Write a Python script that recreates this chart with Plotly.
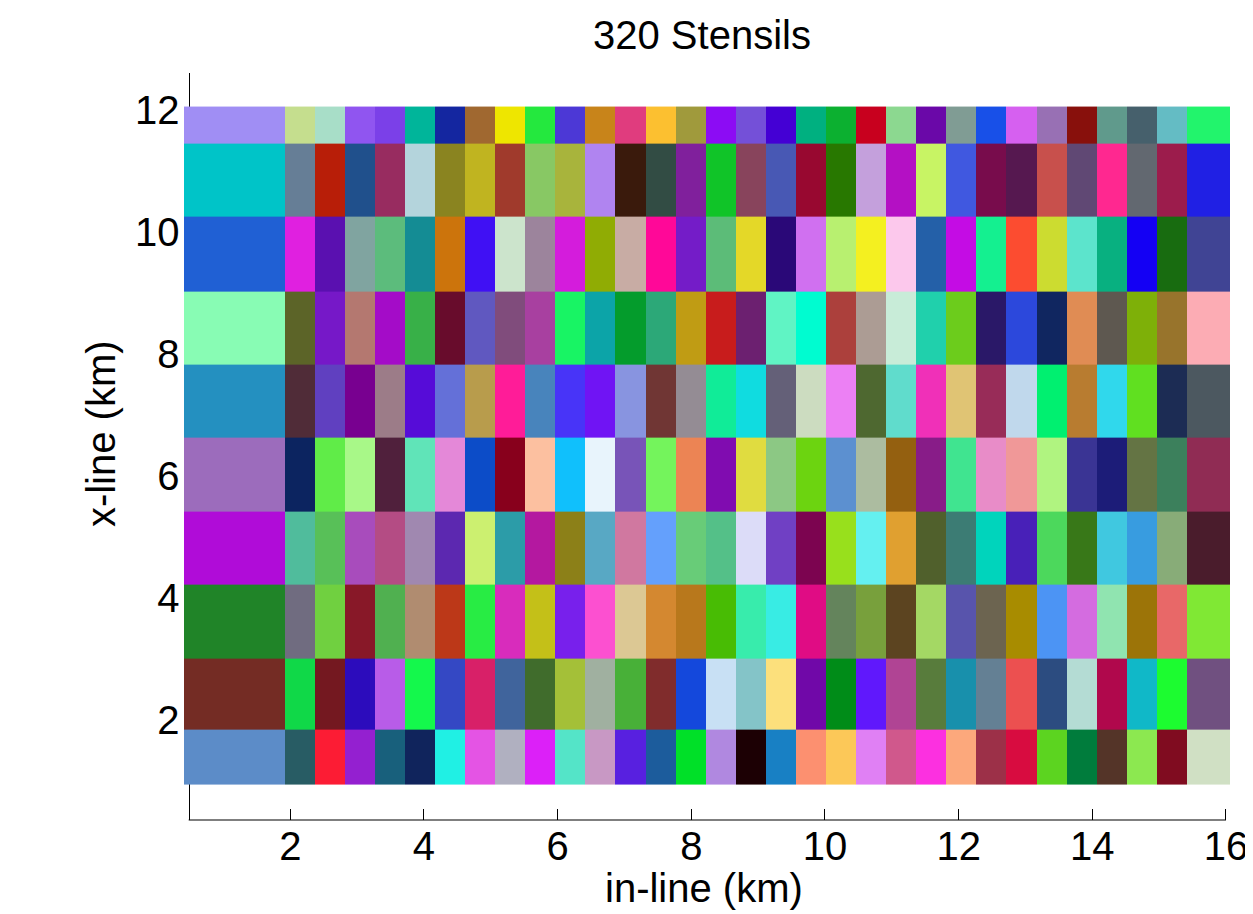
import plotly.graph_objects as go

# Stencil cell edges (km)
x_edges = [0.41, 1.915, 2.365, 2.815, 3.265, 3.715, 4.165, 4.615, 5.065, 5.515,
           5.965, 6.415, 6.865, 7.315, 7.765, 8.215, 8.665, 9.115, 9.565, 10.015,
           10.465, 10.915, 11.365, 11.815, 12.265, 12.715, 13.165, 13.615, 14.065,
           14.515, 14.965, 15.415, 16.06]
y_edges = [0.934, 1.836, 3.01, 4.213, 5.41, 6.62, 7.82, 9.02, 10.25, 11.45, 12.05]

x_ticks = [2, 4, 6, 8, 10, 12, 14, 16]
y_ticks = [2, 4, 6, 8, 10, 12]

# Stencil colours, rows listed from top (x-line ~12) to bottom (x-line ~1)
row_01 = ["#A08EF4", "#C5DE8E", "#A8DEC8", "#9055F0", "#7B40E8", "#00B59A", "#1426A0", "#A06830",
          "#EEE600", "#24E83E", "#4C38D6", "#C8841A", "#E03C7E", "#FCC030", "#A09A3C", "#8C0CF4",
          "#7450D8", "#4400D4", "#00B080", "#0CB030", "#C8001E", "#8CD890", "#6A08A8", "#809C94",
          "#1850E8", "#D660F0", "#9870B4", "#88100C", "#609A8C", "#46606C", "#64BCC4", "#22F46C"]
row_02 = ["#00C4C8", "#667E96", "#B81E08", "#20508C", "#982C60", "#B4D4DC", "#8A8420", "#C0B420",
          "#A03A2C", "#88C864", "#A8B43C", "#B084F0", "#3A1A0C", "#324C44", "#80209C", "#10C428",
          "#88445C", "#4858B4", "#980830", "#287800", "#C4A0DC", "#B410C4", "#C8F464", "#4058E0",
          "#780C4C", "#561850", "#C8504C", "#604874", "#FF2890", "#626870", "#9C1C4C", "#2020E4"]
row_03 = ["#2060D4", "#E020E0", "#5A10B0", "#80A4A0", "#5CBC7C", "#148C94", "#CC740C", "#4010F4",
          "#CCE4CC", "#9C849C", "#D41CDC", "#90AC04", "#C8ACA4", "#FF0898", "#741CC8", "#5CBC78",
          "#E4D828", "#2A0878", "#D070F0", "#B8F070", "#F4F020", "#FCC8EC", "#2460A8", "#C40CE4",
          "#14F090", "#FC4C30", "#CCDC30", "#5CE4CC", "#08B080", "#1400F4", "#186C10", "#404494"]
row_04 = ["#88FCB4", "#5C6428", "#7618C8", "#B47870", "#A40CC8", "#38B048", "#680C2C", "#6058C0",
          "#804C7C", "#A840A0", "#18F464", "#0CA4A8", "#049C2C", "#2CA878", "#C09C14", "#C81C1C",
          "#6C2070", "#60F4C4", "#00FCD0", "#AC403C", "#AC9C94", "#C8ECD8", "#20D0AC", "#6CCC1C",
          "#2A1868", "#2C48DC", "#102660", "#E08C54", "#5E5850", "#7EB008", "#98742C", "#FCACB4"]
row_05 = ["#2490C0", "#502C38", "#6040C0", "#780090", "#9C7C88", "#560CD8", "#6470D8", "#B89C4C",
          "#FF1C98", "#4884BC", "#4834F8", "#7014F4", "#8894E0", "#703634", "#948C94", "#10EC98",
          "#10DCE0", "#646078", "#CCDCC0", "#EC80F4", "#4E6830", "#60DCCC", "#F030B8", "#E0C474",
          "#982C58", "#C0D8EC", "#00F070", "#B87C30", "#30D8EC", "#60E020", "#1C2C54", "#4C5860"]
row_06 = ["#9C6CBC", "#0C2460", "#60EC48", "#A8F888", "#50203C", "#60E4B8", "#E488D8", "#0C4CC8",
          "#88001C", "#FCC0A0", "#10C0FC", "#E8F4FC", "#7854B8", "#74F45C", "#EC8454", "#800CB0",
          "#E0DC40", "#8CC884", "#6CD410", "#5C90D0", "#ACBCA0", "#946010", "#881C88", "#40E490",
          "#E88CC8", "#F09898", "#B0F480", "#3A3494", "#1C1C78", "#647444", "#3C805C", "#902C54"]
row_07 = ["#B00CD8", "#50BC9C", "#58C058", "#A84CBC", "#B44C84", "#A088B0", "#5C28B0", "#CCF070",
          "#2C9CA8", "#B418A0", "#8C8018", "#58A8C4", "#D078A0", "#64A0FC", "#68CC78", "#54C088",
          "#DCDCF8", "#7040C4", "#7C0450", "#98E01C", "#64F0F0", "#E0A030", "#50602C", "#3C7C74",
          "#00D4BC", "#4820B8", "#4CD85C", "#387818", "#40C8E0", "#389CE0", "#88AC78", "#4A1C2C"]
row_08 = ["#208428", "#706C80", "#70D040", "#881828", "#50B050", "#B08C70", "#BC3818", "#28EC44",
          "#D82CBC", "#C4C018", "#7820EC", "#FC50D0", "#DCC894", "#D48830", "#B8781C", "#48BC04",
          "#38ECAC", "#38ECE4", "#E00C84", "#64845C", "#78A03C", "#5C4420", "#A4D864", "#5854AC",
          "#6C6450", "#A88C00", "#4C94F4", "#D46CE0", "#90E4B0", "#9C7408", "#E86868", "#80E834"]
row_09 = ["#742C24", "#10D848", "#741820", "#2C0CBC", "#B85CE8", "#14F84C", "#3448C4", "#D82068",
          "#40649C", "#406C2C", "#A4C038", "#A0B0A0", "#48B038", "#802C2C", "#1448DC", "#C8E0F4",
          "#84C4C8", "#FCE07C", "#7008A8", "#008C18", "#6018FC", "#B04494", "#587C3C", "#1890AC",
          "#648094", "#EC5050", "#2C4C80", "#B4DCD4", "#B0084C", "#10B8C8", "#1CFC30", "#705080"]
row_10 = ["#5C8CC8", "#285C64", "#FC1C34", "#9420D0", "#18607C", "#10245C", "#20F0E4", "#E454E4",
          "#B0B0C0", "#DC20F8", "#54E4C8", "#C898C4", "#5820E0", "#1C5C9C", "#00E028", "#B088E0",
          "#1C0004", "#1880C4", "#FC9070", "#FCC858", "#E080F4", "#D0588C", "#FC30E0", "#FCA87C",
          "#9C3048", "#D80C40", "#5CD420", "#007C3C", "#543428", "#8CE850", "#800C20", "#D0E0C4"]

rows_top_down = [row_01, row_02, row_03, row_04, row_05, row_06, row_07, row_08, row_09, row_10]

# Build an index matrix (bottom row first) and a stepped colour scale
colors_flat = []
z = []
for row in rows_top_down[::-1]:
    zr = []
    for c in row:
        zr.append(len(colors_flat) + 0.5)
        colors_flat.append(c)
    z.append(zr)
n = len(colors_flat)
colorscale = []
for i, c in enumerate(colors_flat):
    colorscale.append([i / n, c])
    colorscale.append([(i + 1) / n, c])

FONT = "Liberation Sans, Arial, Helvetica, sans-serif"

fig = go.Figure(go.Heatmap(
    z=z, x=x_edges, y=y_edges, colorscale=colorscale, zmin=0, zmax=n,
    showscale=False, hoverinfo="skip",
))

x0, x1 = x_edges[0], x_edges[-1]
axis_x = 0.48
y_pos = (axis_x - x0) / (x1 - x0)

# the page body adds an 8 px margin, so the figure is 8 px smaller and shifted
fig.update_layout(
    width=1245, height=906,
    margin=dict(l=176, r=23, t=65, b=94, autoexpand=False),
    paper_bgcolor="white", plot_bgcolor="white",
    font=dict(family=FONT, size=40, color="black"),
    showlegend=False,
    xaxis=dict(range=[x0, x1], tickvals=x_ticks, ticks="inside", ticklen=11,
               tickcolor="black", tickwidth=1.2, showline=False, showgrid=False,
               zeroline=False, tickfont=dict(size=40), ticklabelstandoff=-1,
               automargin=False),
    yaxis=dict(range=[0.36, 12.6], tickvals=y_ticks, ticks="inside", ticklen=11,
               tickcolor="black", tickwidth=1.2, showline=True, linecolor="black",
               linewidth=1.2, showgrid=False, zeroline=False, anchor="free",
               position=y_pos, layer="below traces", tickfont=dict(size=40),
               ticklabelstandoff=1, automargin=False),
    shapes=[dict(type="line", xref="x", yref="paper", x0=axis_x, x1=16, y0=0, y1=0,
                 line=dict(color="black", width=1.2))],
    annotations=[
        dict(text="320 Stensils", xref="paper", yref="paper", x=0.495, y=1.051,
             xanchor="center", yanchor="middle", showarrow=False,
             font=dict(size=40, family=FONT)),
        dict(text="in-line (km)", xref="paper", yref="paper", x=0.497, y=-0.091,
             xanchor="center", yanchor="middle", showarrow=False,
             font=dict(size=40, family=FONT)),
        dict(text="x-line (km)", xref="paper", yref="paper", x=-0.080, y=0.517,
             xanchor="center", yanchor="middle", showarrow=False, textangle=-90,
             font=dict(size=40, family=FONT)),
    ],
)

fig.write_html("out.html")
